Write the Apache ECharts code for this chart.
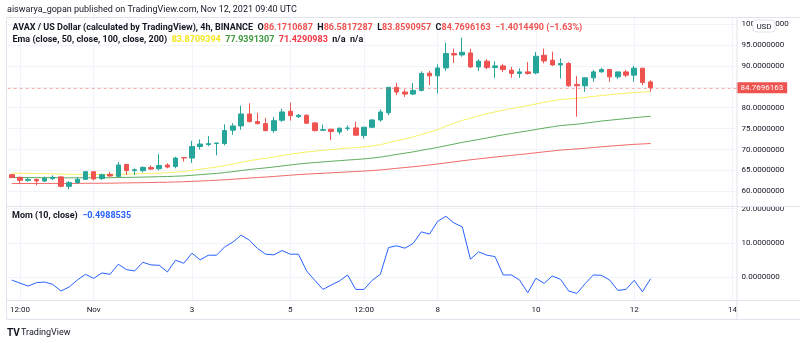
<!DOCTYPE html>
<html><head><meta charset="utf-8">
<script src="https://cdn.jsdelivr.net/npm/echarts@6/dist/echarts.min.js"></script>
<style>html,body{margin:0;padding:0;background:#fff;overflow:hidden}#c{width:800px;height:343px}</style>
</head><body><div id="c"></div>
<script>
// ---- data (4h candles, Oct 30 08:00 .. Nov 12 08:00 UTC) ----
const opens  = [63.97,63.35,62.62,62.85,62.45,63.05,63.45,61.19,62.07,62.86,64.69,63.05,64.05,63.57,66.43,64.95,64.93,65.67,65.40,66.29,65.95,68.05,67.95,70.71,71.20,71.45,71.43,74.62,75.64,78.50,76.67,76.20,74.52,77.00,79.14,77.86,78.19,76.36,74.60,74.86,74.20,75.05,75.17,73.33,75.33,77.07,78.80,84.86,83.74,83.26,84.14,88.26,87.62,89.52,92.95,92.62,93.10,89.76,91.12,89.62,90.00,88.98,88.19,88.57,88.33,92.55,91.36,90.24,90.57,85.57,85.24,87.14,88.57,89.14,87.38,88.57,87.79,89.45,86.1710687];
const closes = [63.30,62.62,62.85,62.48,63.10,63.35,61.19,62.07,62.86,64.69,62.95,63.98,63.67,66.29,65.00,65.17,65.71,65.33,66.19,65.81,67.95,67.98,70.71,71.30,71.40,71.55,74.52,75.64,78.50,76.67,76.19,74.52,76.90,78.98,78.10,78.20,76.29,74.52,74.75,74.29,75.10,75.15,73.43,75.33,77.07,78.98,84.86,83.74,83.26,84.14,88.19,87.62,89.52,92.95,92.62,93.26,89.76,91.12,89.60,90.00,89.14,88.19,88.57,88.19,92.31,91.19,90.24,90.57,85.24,85.24,87.14,88.57,89.14,87.38,88.57,87.79,89.45,86.05,84.7696163];
const lows   = [63.15,61.90,62.30,61.43,62.20,62.65,60.95,60.48,61.80,62.70,62.60,62.70,63.50,63.40,63.90,63.90,64.50,65.10,65.00,65.50,65.50,67.10,66.80,70.00,70.80,68.60,71.00,73.50,74.70,76.50,76.00,74.30,74.05,76.60,76.90,77.50,76.10,74.30,74.50,72.30,73.60,74.50,73.20,72.60,75.20,76.70,78.20,83.00,82.60,83.00,83.90,85.40,83.43,88.80,90.70,92.20,89.50,88.74,89.20,87.14,88.50,87.14,87.14,87.90,88.00,90.60,90.00,87.00,85.00,77.86,83.80,86.20,88.40,86.20,86.90,87.30,86.20,85.40,83.8590957];
const highs  = [64.10,63.50,63.40,63.05,63.50,63.80,63.60,62.45,63.40,64.80,64.75,64.20,64.60,67.00,66.55,65.50,66.00,66.20,68.90,66.70,68.26,68.10,72.07,72.40,73.20,71.60,76.05,76.29,80.48,81.05,78.80,77.50,77.80,79.76,81.19,78.50,78.40,76.50,75.95,74.90,75.20,75.80,76.67,75.40,77.20,79.60,84.90,85.95,84.40,85.90,88.70,88.80,90.40,95.57,94.10,96.76,94.10,91.60,91.60,91.10,90.50,89.76,89.40,90.90,93.33,94.14,93.40,91.76,90.90,87.55,87.20,89.00,89.50,89.20,88.60,89.00,90.00,89.50,86.5817287];
const ema50  = [64.35,64.32,64.29,64.26,64.22,64.19,64.12,64.08,64.05,64.06,64.02,64.02,64.01,64.10,64.13,64.17,64.23,64.28,64.36,64.42,64.57,64.72,65.00,65.28,65.55,65.80,66.15,66.50,66.95,67.30,67.65,67.90,68.20,68.55,68.85,69.15,69.40,69.60,69.80,69.98,70.15,70.32,70.45,70.62,70.85,71.15,71.65,72.12,72.55,73.00,73.60,74.15,74.75,75.60,76.30,76.95,77.50,78.05,78.55,79.00,79.40,79.80,80.15,80.50,80.90,81.30,81.65,81.95,82.10,82.25,82.45,82.70,82.90,83.10,83.30,83.45,83.65,83.75,83.8709394];
const ema100 = [63.30,63.29,63.28,63.27,63.27,63.27,63.24,63.22,63.22,63.24,63.24,63.25,63.25,63.30,63.33,63.36,63.40,63.44,63.49,63.53,63.61,63.69,63.83,63.98,64.13,64.28,64.48,64.70,64.97,65.20,65.42,65.60,65.82,66.07,66.30,66.53,66.72,66.88,67.04,67.18,67.33,67.48,67.60,67.75,67.95,68.17,68.50,68.82,69.12,69.43,69.80,70.15,70.50,70.90,71.30,71.70,72.05,72.40,72.75,73.15,73.50,73.82,74.15,74.45,74.80,75.12,75.43,75.72,75.90,76.05,76.30,76.55,76.80,77.00,77.20,77.40,77.60,77.80,77.9391307];
const ema200 = [61.85,61.86,61.87,61.87,61.88,61.89,61.88,61.88,61.89,61.91,61.92,61.93,61.94,61.98,62.01,62.04,62.07,62.10,62.14,62.17,62.23,62.29,62.37,62.46,62.55,62.64,62.76,62.88,63.03,63.17,63.30,63.41,63.55,63.70,63.85,63.99,64.11,64.22,64.32,64.42,64.53,64.64,64.73,64.84,64.96,65.10,65.30,65.50,65.68,65.87,66.09,66.30,66.53,66.79,67.05,67.31,67.53,67.76,67.98,68.19,68.40,68.60,68.80,69.00,69.22,69.44,69.65,69.86,70.00,70.14,70.30,70.47,70.64,70.80,70.96,71.10,71.24,71.33,71.4290983];
const mom    = [-0.9,-1.8,-2.65,-1.67,-1.47,-2.16,-4.1,-2.94,-0.88,0.78,-0.39,1.18,0.78,3.73,2.16,1.76,4.31,3.53,3.43,1.47,4.9,4.02,6.96,5.0,6.37,6.37,8.82,10.2,12.25,10.78,8.33,6.67,6.47,7.75,6.67,6.67,1.76,-0.98,-3.63,-2.35,-1.18,0.59,-3.63,-3.63,-0.98,0.78,8.63,9.12,8.43,9.8,13.2,12.55,16.27,17.75,15.78,14.7,5.2,7.35,6.37,5.98,0.59,0.59,-0.88,-4.6,-0.39,-1.86,0.29,-0.69,-4.1,-4.8,-1.96,0.59,0.49,-0.88,-3.92,-3.63,-0.98,-4.31,-0.4988535];
const xTickIdx  = [1, 10, 22, 34, 43, 52, 64, 76, 88];
const xTickText = ['12:00', 'Nov', '3', '5', '12:00', '8', '10', '12', '14'];
const lastPrice = 84.7696163;
const headerText = 'aiswarya_gopan published on TradingView.com, Nov 12, 2021 09:40 UTC';

// ---- build ----
const N = 89, startMs = Date.UTC(2021, 9, 30, 8);
const cats = [];
for (let i = 0; i < N; i++) cats.push(new Date(startMs + i * 4 * 3600e3).toISOString().slice(0, 16));
const labelMap = {};
xTickIdx.forEach((ix, k) => labelMap[ix] = xTickText[k]);
const candles = opens.map((o, i) => [o, closes[i], lows[i], highs[i]]);

const FONT = 'Roboto';
const TXT = '#131722', GRID = '#f0f3fa', BORDER = '#e0e3eb';
const UP = '#26a69a', DOWN = '#ef5350';
const AX = 8;

const chart = echarts.init(document.getElementById('c'), null, {renderer: 'canvas'});
const hiddenX = (gi, boundary) => ({type: 'category', gridIndex: gi, data: cats, boundaryGap: boundary,
  axisLine: {show: false}, axisTick: {show: false}, axisLabel: {show: false}, splitLine: {show: false}});
const frameX = (gi, labels) => ({type: 'category', gridIndex: gi, data: cats, boundaryGap: false,
  axisLine: {show: false}, axisTick: {show: false},
  axisLabel: {show: labels, interval: (i) => labelMap[i] !== undefined, formatter: (v, i) => labelMap[i] || '',
    color: TXT, fontFamily: FONT, fontSize: AX, margin: 6},
  splitLine: {show: true, interval: (i) => labelMap[i] !== undefined, lineStyle: {color: GRID, width: 1}}});

chart.setOption({
  animation: false,
  backgroundColor: '#fff',
  textStyle: {fontFamily: FONT},
  title: [
    {left: 7, top: 4.5, padding: 0, text: headerText, textStyle: {fontSize: 9, fontWeight: 'normal', color: TXT, fontFamily: FONT, lineHeight: 11}},
    {left: 12.5, top: 23, padding: 0,
     text: '{d|AVAX / US Dollar (calculated by TradingView), 4h, BINANCE  O}{r|86.1710687}{d|  H}{r|86.5817287}{d|  L}{r|83.8590957}{d|  C}{r|84.7696163}{r|  \u22121.4014490 (\u22121.63%)}',
     textStyle: {rich: {d: {fontSize: 9, color: TXT, fontFamily: FONT}, r: {fontSize: 9, color: DOWN, fontFamily: FONT}}}},
    {left: 12.5, top: 35, padding: 0,
     text: '{d|Ema (close, 50, close, 100, close, 200)  }{y|83.8709394}{d|  }{g|77.9391307}{d|  }{r|71.4290983}{d|  n/a  n/a}',
     textStyle: {rich: {d: {fontSize: 9, color: TXT, fontFamily: FONT}, y: {fontSize: 9, color: '#f2e61c', fontFamily: FONT},
       g: {fontSize: 9, color: '#3d9a3d', fontFamily: FONT}, r: {fontSize: 9, color: '#f23645', fontFamily: FONT}}}},
    {left: 12, top: 211.5, padding: 0,
     text: '{d|Mom (10, close)  }{b|\u22120.4988535}',
     textStyle: {rich: {d: {fontSize: 9, color: TXT, fontFamily: FONT}, b: {fontSize: 9, color: '#2962ff', fontFamily: FONT}}}}
  ],
  grid: [
    {left: 7.7, top: 3.2, width: 728.9, height: 209},
    {left: 7.7, top: 174.4, width: 728.9, height: 136.8},
    {left: 11.8, top: 17, width: 720.7, height: 189},
    {left: 11.8, top: 206, width: 720.7, height: 94}
  ],
  xAxis: [hiddenX(0, true), hiddenX(1, true), frameX(2, false), frameX(3, true)],
  yAxis: [
    {type: 'value', gridIndex: 0, position: 'right', min: 55, max: 105, interval: 5, scale: true,
     axisLine: {show: false}, axisTick: {show: false},
     axisLabel: {color: TXT, fontFamily: FONT, fontSize: AX, margin: 5, showMinLabel: false, showMaxLabel: false, formatter: v => v.toFixed(7)},
     splitLine: {show: true, showMinLine: false, showMaxLine: false, lineStyle: {color: GRID}}},
    {type: 'value', gridIndex: 1, position: 'right', min: -10, max: 30, interval: 10,
     axisLine: {show: false}, axisTick: {show: false},
     axisLabel: {color: TXT, fontFamily: FONT, fontSize: AX, margin: 5, showMinLabel: false, showMaxLabel: false, formatter: v => v.toFixed(7)},
     splitLine: {show: true, showMinLine: false, showMaxLine: false, lineStyle: {color: GRID}}},
    {type: 'value', gridIndex: 2, show: false},
    {type: 'value', gridIndex: 3, show: false}
  ],
  series: [
    {type: 'line', xAxisIndex: 0, yAxisIndex: 0, data: ema200, showSymbol: false, symbol: 'none', silent: true,
     lineStyle: {color: '#f26a6a', width: 1}, z: 2},
    {type: 'line', xAxisIndex: 0, yAxisIndex: 0, data: ema100, showSymbol: false, symbol: 'none', silent: true,
     lineStyle: {color: '#5fae5f', width: 1}, z: 2},
    {type: 'line', xAxisIndex: 0, yAxisIndex: 0, data: ema50, showSymbol: false, symbol: 'none', silent: true,
     lineStyle: {color: '#f7f064', width: 1}, z: 2},
    {type: 'candlestick', xAxisIndex: 0, yAxisIndex: 0, data: candles, barWidth: 5, clip: false, z: 3,
     itemStyle: {color: UP, color0: DOWN, borderColor: UP, borderColor0: DOWN, borderWidth: 1},
     markLine: {silent: true, symbol: ['none', 'none'], animation: false,
       lineStyle: {color: 'rgba(239,83,80,0.45)', type: [3, 3], width: 1},
       label: {show: true, position: 'end', distance: 0, formatter: () => lastPrice.toFixed(7),
         color: '#fff', backgroundColor: DOWN, padding: [2, 4, 1, 4], fontSize: AX, fontFamily: FONT},
       data: [{yAxis: lastPrice}]}},
    {type: 'line', xAxisIndex: 1, yAxisIndex: 1, data: mom, showSymbol: false, symbol: 'none', silent: true,
     lineStyle: {color: '#2962ff', width: 1}, z: 2}
  ],
  graphic: [
    {type: 'rect', shape: {x: 6.5, y: 17.5, width: 800, height: 302}, style: {fill: 'none', stroke: BORDER, lineWidth: 1}, silent: true, z: 10},
    {type: 'line', shape: {x1: 6.5, y1: 206.5, x2: 800, y2: 206.5}, style: {stroke: BORDER, lineWidth: 1}, silent: true, z: 10},
    {type: 'line', shape: {x1: 6.5, y1: 300.5, x2: 800, y2: 300.5}, style: {stroke: BORDER, lineWidth: 1}, silent: true, z: 10},
    {type: 'line', shape: {x1: 737, y1: 17.5, x2: 737, y2: 319.5}, style: {stroke: BORDER, lineWidth: 1}, silent: true, z: 10},
    {type: 'rect', shape: {x: 753, y: 20, width: 22, height: 12, r: 3}, style: {fill: '#fff', stroke: BORDER, lineWidth: 1}, silent: true, z: 20},
    {type: 'text', x: 764, y: 26.5, style: {text: 'USD', fontSize: 8, fontFamily: FONT, fill: TXT, align: 'center', verticalAlign: 'middle'}, silent: true, z: 21},
    {type: 'text', x: 7, y: 333, style: {text: 'TV', fontSize: 10, fontWeight: 'bold', fontFamily: FONT, fill: TXT, verticalAlign: 'middle'}, silent: true, z: 21},
    {type: 'text', x: 21, y: 333, style: {text: 'TradingView', fontSize: 9, fontFamily: FONT, fill: TXT, verticalAlign: 'middle'}, silent: true, z: 21}
  ]
});
</script></body></html>
